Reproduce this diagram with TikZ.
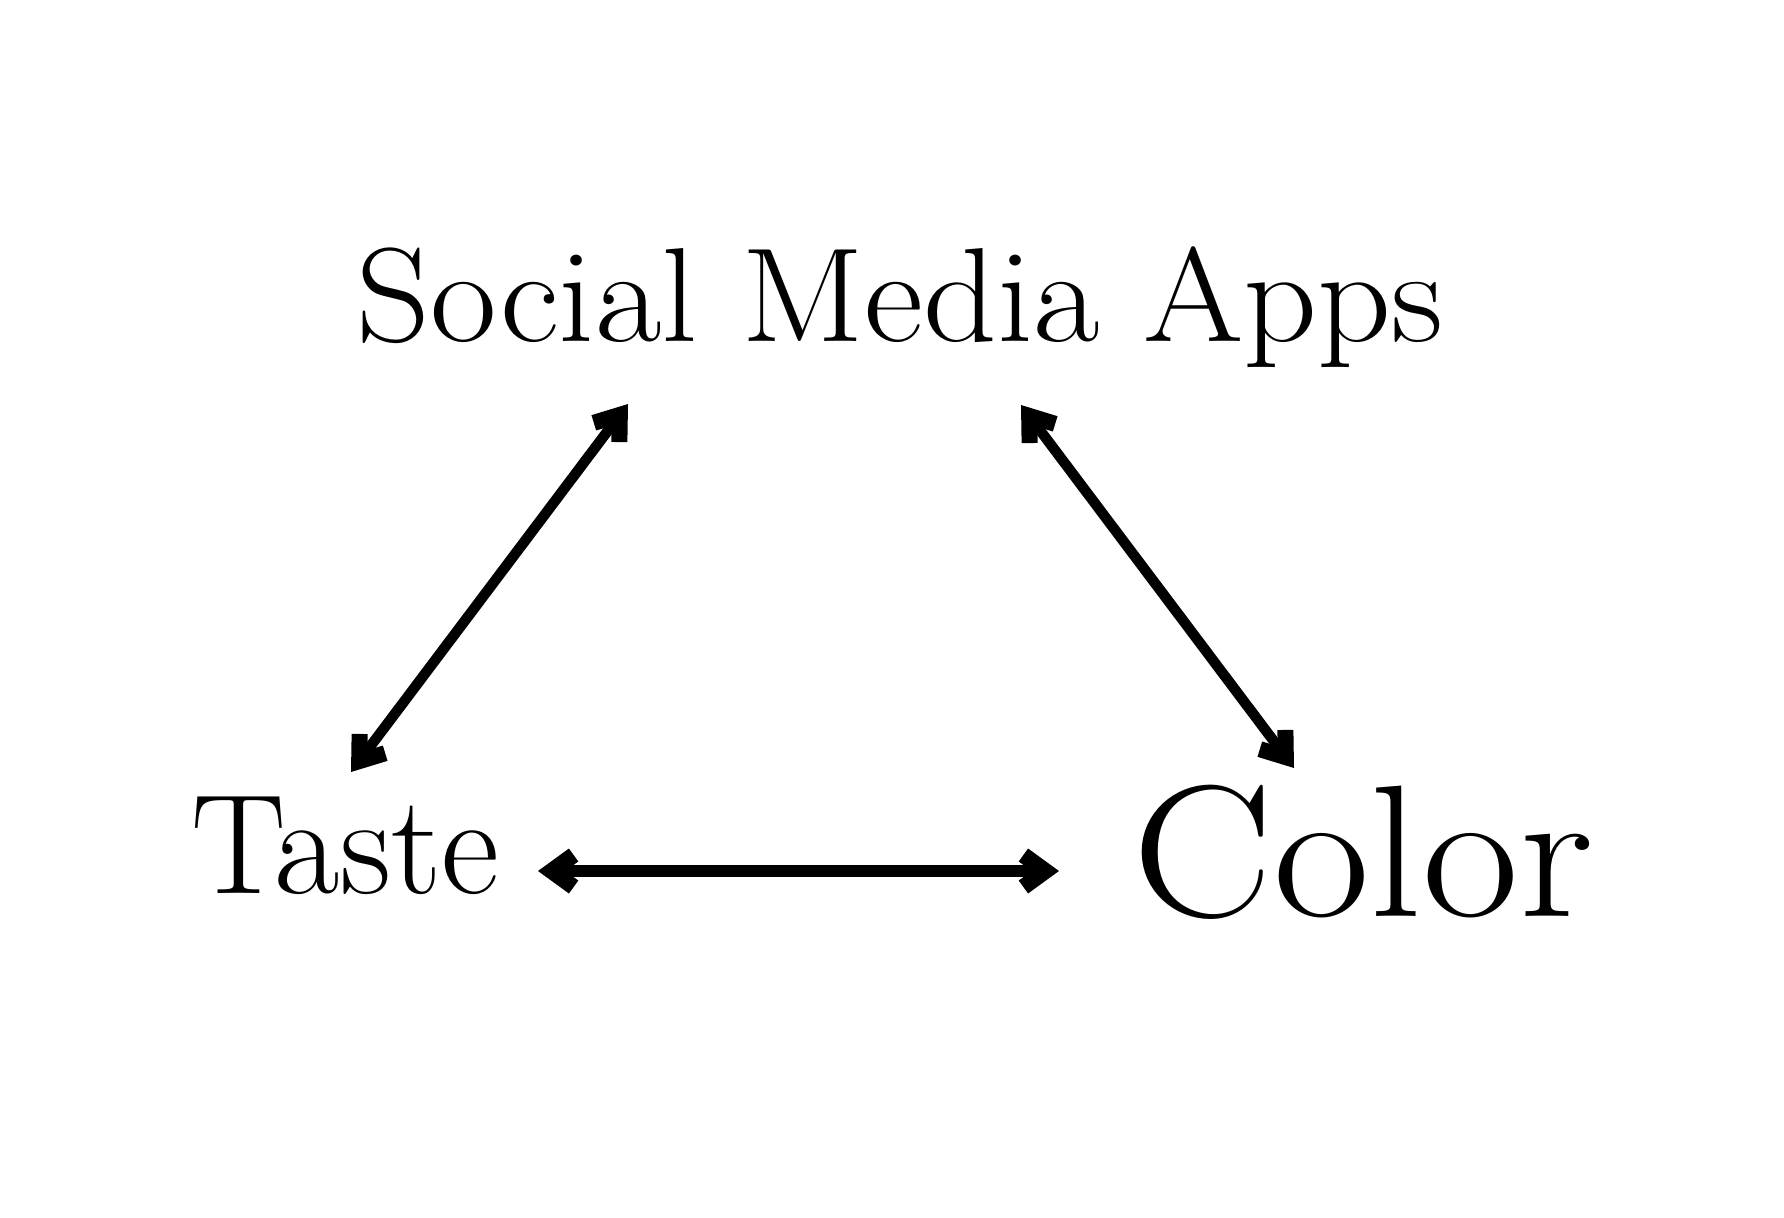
\documentclass[tikz,border=0pt]{standalone}
\usepackage{fontspec}
\newfontfamily\smafont[FakeStretch=1.08]{Latin Modern Roman}
\newfontfamily\colorfont[FakeStretch=1.12]{Latin Modern Roman}
\usetikzlibrary{arrows.meta}
\begin{document}
\begin{tikzpicture}[x=0.5pt,y=-0.5pt,
  lbl/.style={anchor=base,inner sep=0pt},
  headtip/.tip={Straight Barb[length=11pt,width=16pt,line width=8pt]},
  diag/.style={line width=5.2pt,{headtip}-{headtip}},
  horiz/.style={line width=6.3pt,{headtip}-{headtip}}]
\useasboundingbox (0,0) rectangle (1784,1217);
\node[lbl,font=\smafont\fontsize{67}{80}\selectfont] (sma) at (900,341) {Social Media Apps};
\node[lbl,font=\fontsize{71}{85}\selectfont] (taste) at (345,893) {Taste};
\node[lbl,font=\colorfont\fontsize{94}{110}\selectfont] (color) at (1363,916) {Color};
\coordinate (smaL) at (628,404);
\coordinate (smaR) at (1021,405);
\coordinate (tasteT) at (351,772);
\coordinate (tasteR) at (538,871);
\coordinate (colorT) at (1294,768);
\coordinate (colorL) at (1059,871);
\draw[diag] (tasteT) -- (smaL);
\draw[diag] (smaR) -- (colorT);
\draw[horiz] (tasteR) -- (colorL);
\end{tikzpicture}
\end{document}
